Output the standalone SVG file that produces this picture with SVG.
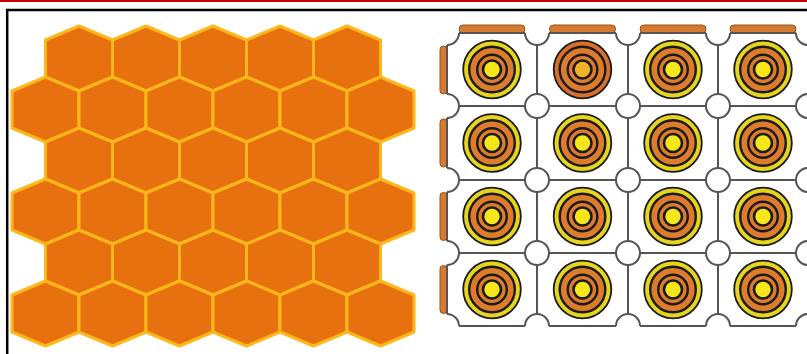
<svg xmlns="http://www.w3.org/2000/svg" xmlns:xlink="http://www.w3.org/1999/xlink" width="807" height="354" viewBox="0 0 807 354">
<style>
.hex{fill:#E8710F;stroke:#FDB71A;stroke-width:3;stroke-linejoin:round}
.grid{stroke:#555555;stroke-width:2;fill:none}
.hole{fill:#ffffff}
.holeline{fill:none;stroke:#555555;stroke-width:2}
.tab{fill:#D57A30;stroke:#94501f;stroke-width:1}
.ink{stroke:#1a1a1a}
</style>
<defs>
<polygon id="hx" class="hex" points="0,-32.5 33.5,-18.5 33.5,18.5 0,32.5 -33.5,18.5 -33.5,-18.5"/>
<g id="tgt">
<circle r="28.8" fill="#E6D41E" class="ink" stroke-width="1.8"/>
<circle r="22.8" fill="#DE7C2E" class="ink" stroke-width="2.4"/>
<circle r="14.8" fill="none" class="ink" stroke-width="2.4"/>
<circle r="9" fill="#F7E61A" class="ink" stroke-width="2.6"/>
</g>
<g id="tgt2">
<circle r="28.8" fill="#D8702A" class="ink" stroke-width="1.8"/>
<circle r="22.8" fill="#DE7C2E" class="ink" stroke-width="2.4"/>
<circle r="14.8" fill="none" class="ink" stroke-width="2.4"/>
<circle r="9" fill="#F0B22A" class="ink" stroke-width="2.6"/>
</g>
<clipPath id="gclip"><rect x="447" y="33" width="361" height="293"/></clipPath>
</defs>
<rect width="807" height="354" fill="#ffffff"/>
<g id="frame">
<line x1="0" y1="1" x2="807" y2="1" stroke="#CC0000" stroke-width="2"/>
<line x1="6" y1="10" x2="807" y2="10" stroke="#000" stroke-width="2.5"/>
<line x1="7.2" y1="9" x2="7.2" y2="354" stroke="#000" stroke-width="2.5"/>
</g>
<g id="honeycomb">
<use xlink:href="#hx" x="79" y="58.5"/><use xlink:href="#hx" x="146" y="58.5"/><use xlink:href="#hx" x="213" y="58.5"/><use xlink:href="#hx" x="280" y="58.5"/><use xlink:href="#hx" x="347" y="58.5"/>
<use xlink:href="#hx" x="45.5" y="109.5"/><use xlink:href="#hx" x="112.5" y="109.5"/><use xlink:href="#hx" x="179.5" y="109.5"/><use xlink:href="#hx" x="246.5" y="109.5"/><use xlink:href="#hx" x="313.5" y="109.5"/><use xlink:href="#hx" x="380.5" y="109.5"/>
<use xlink:href="#hx" x="79" y="160.5"/><use xlink:href="#hx" x="146" y="160.5"/><use xlink:href="#hx" x="213" y="160.5"/><use xlink:href="#hx" x="280" y="160.5"/><use xlink:href="#hx" x="347" y="160.5"/>
<use xlink:href="#hx" x="45.5" y="211.5"/><use xlink:href="#hx" x="112.5" y="211.5"/><use xlink:href="#hx" x="179.5" y="211.5"/><use xlink:href="#hx" x="246.5" y="211.5"/><use xlink:href="#hx" x="313.5" y="211.5"/><use xlink:href="#hx" x="380.5" y="211.5"/>
<use xlink:href="#hx" x="79" y="262.5"/><use xlink:href="#hx" x="146" y="262.5"/><use xlink:href="#hx" x="213" y="262.5"/><use xlink:href="#hx" x="280" y="262.5"/><use xlink:href="#hx" x="347" y="262.5"/>
<use xlink:href="#hx" x="45.5" y="313.5"/><use xlink:href="#hx" x="112.5" y="313.5"/><use xlink:href="#hx" x="179.5" y="313.5"/><use xlink:href="#hx" x="246.5" y="313.5"/><use xlink:href="#hx" x="313.5" y="313.5"/><use xlink:href="#hx" x="380.5" y="313.5"/>
</g>
<g id="tabs">
<rect class="tab" x="459" y="25" width="66" height="8" rx="4"/>
<rect class="tab" x="549.5" y="25" width="66" height="8" rx="4"/>
<rect class="tab" x="640" y="25" width="66" height="8" rx="4"/>
<rect class="tab" x="730" y="25" width="66" height="8" rx="4"/>
<rect class="tab" x="440" y="46" width="7" height="48" rx="3.5"/>
<rect class="tab" x="440" y="119" width="7" height="48" rx="3.5"/>
<rect class="tab" x="440" y="192.5" width="7" height="48" rx="3.5"/>
<rect class="tab" x="440" y="265.5" width="7" height="48" rx="3.5"/>
</g>
<g id="grid">
<path class="grid" d="M447,33H808M447,106H808M447,180H808M447,253H808M447,326H808M447,33V326M537,33V326M628,33V326M718,33V326M808,33V326"/>
<g id="holes-fill">
<circle class="hole" cx="447" cy="33" r="12"/><circle class="hole" cx="537" cy="33" r="12"/><circle class="hole" cx="628" cy="33" r="12"/><circle class="hole" cx="718" cy="33" r="12"/><circle class="hole" cx="808" cy="33" r="12"/>
<circle class="hole" cx="447" cy="106" r="12"/><circle class="hole" cx="537" cy="106" r="12"/><circle class="hole" cx="628" cy="106" r="12"/><circle class="hole" cx="718" cy="106" r="12"/><circle class="hole" cx="808" cy="106" r="12"/>
<circle class="hole" cx="447" cy="180" r="12"/><circle class="hole" cx="537" cy="180" r="12"/><circle class="hole" cx="628" cy="180" r="12"/><circle class="hole" cx="718" cy="180" r="12"/><circle class="hole" cx="808" cy="180" r="12"/>
<circle class="hole" cx="447" cy="253" r="12"/><circle class="hole" cx="537" cy="253" r="12"/><circle class="hole" cx="628" cy="253" r="12"/><circle class="hole" cx="718" cy="253" r="12"/><circle class="hole" cx="808" cy="253" r="12"/>
<circle class="hole" cx="447" cy="326" r="12"/><circle class="hole" cx="537" cy="326" r="12"/><circle class="hole" cx="628" cy="326" r="12"/><circle class="hole" cx="718" cy="326" r="12"/><circle class="hole" cx="808" cy="326" r="12"/>
</g>
<g id="holes-line" clip-path="url(#gclip)">
<circle class="holeline" cx="447" cy="33" r="12"/><circle class="holeline" cx="537" cy="33" r="12"/><circle class="holeline" cx="628" cy="33" r="12"/><circle class="holeline" cx="718" cy="33" r="12"/><circle class="holeline" cx="808" cy="33" r="12"/>
<circle class="holeline" cx="447" cy="106" r="12"/><circle class="holeline" cx="537" cy="106" r="12"/><circle class="holeline" cx="628" cy="106" r="12"/><circle class="holeline" cx="718" cy="106" r="12"/><circle class="holeline" cx="808" cy="106" r="12"/>
<circle class="holeline" cx="447" cy="180" r="12"/><circle class="holeline" cx="537" cy="180" r="12"/><circle class="holeline" cx="628" cy="180" r="12"/><circle class="holeline" cx="718" cy="180" r="12"/><circle class="holeline" cx="808" cy="180" r="12"/>
<circle class="holeline" cx="447" cy="253" r="12"/><circle class="holeline" cx="537" cy="253" r="12"/><circle class="holeline" cx="628" cy="253" r="12"/><circle class="holeline" cx="718" cy="253" r="12"/><circle class="holeline" cx="808" cy="253" r="12"/>
<circle class="holeline" cx="447" cy="326" r="12"/><circle class="holeline" cx="537" cy="326" r="12"/><circle class="holeline" cx="628" cy="326" r="12"/><circle class="holeline" cx="718" cy="326" r="12"/><circle class="holeline" cx="808" cy="326" r="12"/>
</g>
</g>
<g id="targets">
<use xlink:href="#tgt" x="492" y="69.5"/><use xlink:href="#tgt2" x="582.5" y="69.5"/><use xlink:href="#tgt" x="673" y="69.5"/><use xlink:href="#tgt" x="763" y="69.5"/>
<use xlink:href="#tgt" x="492" y="143"/><use xlink:href="#tgt" x="582.5" y="143"/><use xlink:href="#tgt" x="673" y="143"/><use xlink:href="#tgt" x="763" y="143"/>
<use xlink:href="#tgt" x="492" y="216.5"/><use xlink:href="#tgt" x="582.5" y="216.5"/><use xlink:href="#tgt" x="673" y="216.5"/><use xlink:href="#tgt" x="763" y="216.5"/>
<use xlink:href="#tgt" x="492" y="289.5"/><use xlink:href="#tgt" x="582.5" y="289.5"/><use xlink:href="#tgt" x="673" y="289.5"/><use xlink:href="#tgt" x="763" y="289.5"/>
</g>
</svg>
